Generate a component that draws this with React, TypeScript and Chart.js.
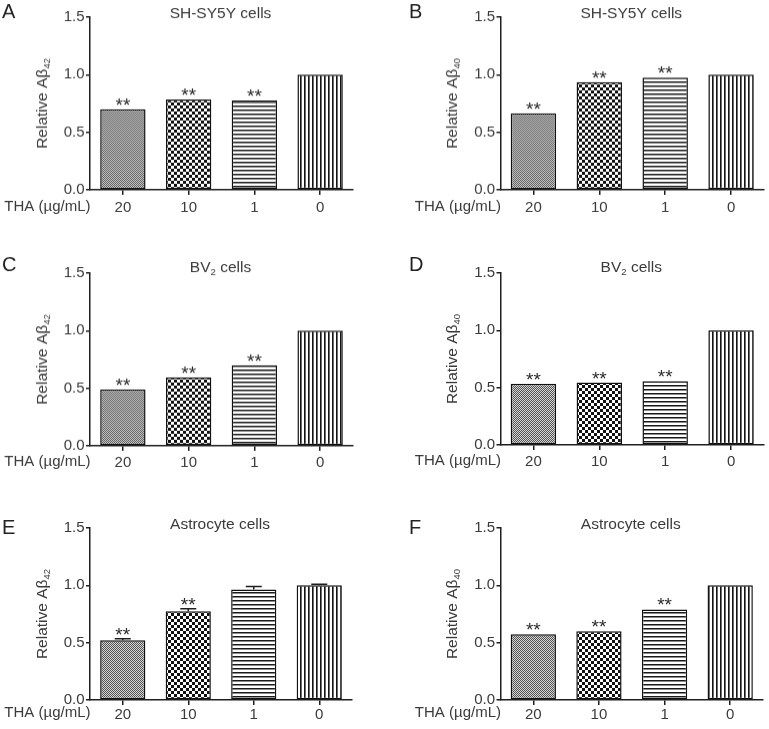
import React, { useEffect, useRef } from 'react';
import { Chart, registerables } from 'chart.js';

Chart.register(...registerables);

// ---------- data ----------
const categories = ['20', '10', '1', '0'];
const xPrefix = 'THA (µg/mL)';
const yMin = 0;
const yMax = 1.5;
const yStep = 0.5;

const valuesA = [0.70, 0.785, 0.776, 1.0];
const valuesB = [0.665, 0.935, 0.975, 1.0];
const valuesC = [0.49, 0.595, 0.70, 1.0];
const valuesD = [0.535, 0.544, 0.555, 1.0];
const valuesE = [0.52, 0.775, 0.963, 1.0];
const valuesF = [0.573, 0.60, 0.79, 1.0];

const errorsE = [0.014, 0.02, 0.027, 0.01];

const sigA = ['**', '**', '**', ''];
const sigB = ['**', '**', '**', ''];
const sigC = ['**', '**', '**', ''];
const sigD = ['**', '**', '**', ''];
const sigE = ['**', '**', '', ''];
const sigF = ['**', '**', '**', ''];

type Seg = { t: string; sub?: boolean };
const titleSH: Seg[] = [{ t: 'SH-SY5Y cells' }];
const titleBV: Seg[] = [{ t: 'BV' }, { t: '2', sub: true }, { t: ' cells' }];
const titleAstro: Seg[] = [{ t: 'Astrocyte cells' }];
const yTitle42: Seg[] = [{ t: 'Relative Aβ' }, { t: '42', sub: true }];
const yTitle40: Seg[] = [{ t: 'Relative Aβ' }, { t: '40', sub: true }];

const panelLetters = ['A', 'B', 'C', 'D', 'E', 'F'];

// ---------- styling / layout ----------
const FONT = "'Liberation Sans', Arial, Helvetica, sans-serif";
const TEXT = '#3a3a3a';
const AXIS = '#1e1e1e';
const PAD_TOP = 20;
const X_AXIS_H = 40;

interface Layout {
  left: number; width: number; axisX: number; right: number;
  plotTop: number; plotBottom: number; letterX: number; letterY: number;
  titleY: number; labelPad: number;
}

const layouts: Layout[] = [
  { left: 0, width: 384, axisX: 90, right: 353, plotTop: 17, plotBottom: 189.5, letterX: 2, letterY: 11.5, titleY: 12.7, labelPad: 4 },
  { left: 384, width: 385, axisX: 500.5, right: 764, plotTop: 17, plotBottom: 189.5, letterX: 409, letterY: 11.5, titleY: 12.7, labelPad: 4 },
  { left: 0, width: 384, axisX: 90, right: 353, plotTop: 273.3, plotBottom: 445.6, letterX: 2, letterY: 265, titleY: 266.7, labelPad: 3 },
  { left: 384, width: 385, axisX: 500.5, right: 764, plotTop: 273.3, plotBottom: 445.3, letterX: 409, letterY: 265, titleY: 266.7, labelPad: 3 },
  { left: 0, width: 384, axisX: 90, right: 352, plotTop: 527.7, plotBottom: 700, letterX: 2, letterY: 527, titleY: 523.3, labelPad: 0.5 },
  { left: 384, width: 385, axisX: 500.5, right: 763, plotTop: 527.7, plotBottom: 700, letterX: 409, letterY: 527, titleY: 523.3, labelPad: 0.5 },
];

interface Panel {
  values: number[]; errors: number[] | null; sig: string[]; title: Seg[]; yTitle: Seg[];
}

const panels: Panel[] = [
  { values: valuesA, errors: null, sig: sigA, title: titleSH, yTitle: yTitle42 },
  { values: valuesB, errors: null, sig: sigB, title: titleSH, yTitle: yTitle40 },
  { values: valuesC, errors: null, sig: sigC, title: titleBV, yTitle: yTitle42 },
  { values: valuesD, errors: null, sig: sigD, title: titleBV, yTitle: yTitle40 },
  { values: valuesE, errors: errorsE, sig: sigE, title: titleAstro, yTitle: yTitle42 },
  { values: valuesF, errors: null, sig: sigF, title: titleAstro, yTitle: yTitle40 },
];

// ---------- helpers ----------
function makePattern(kind: number): CanvasPattern | string {
  const c = document.createElement('canvas');
  const ctx = c.getContext('2d');
  if (!ctx) return '#999';
  if (kind === 0) {
    c.width = 2; c.height = 2;
    ctx.fillStyle = '#d8d8d8'; ctx.fillRect(0, 0, 2, 2);
    ctx.fillStyle = '#505050'; ctx.fillRect(0, 0, 1, 1); ctx.fillRect(1, 1, 1, 1);
  } else if (kind === 1) {
    c.width = 6; c.height = 6;
    ctx.fillStyle = '#ffffff'; ctx.fillRect(0, 0, 6, 6);
    ctx.fillStyle = '#111111'; ctx.fillRect(0, 0, 3, 3); ctx.fillRect(3, 3, 3, 3);
  } else if (kind === 2) {
    c.width = 4; c.height = 4;
    ctx.fillStyle = '#ffffff'; ctx.fillRect(0, 0, 4, 4);
    ctx.fillStyle = '#1a1a1a'; ctx.fillRect(0, 0, 4, 1);
    ctx.fillStyle = '#8a8a8a'; ctx.fillRect(0, 1, 4, 1);
  } else {
    c.width = 4; c.height = 4;
    ctx.fillStyle = '#ffffff'; ctx.fillRect(0, 0, 4, 4);
    ctx.fillStyle = '#151515'; ctx.fillRect(0, 0, 1, 4);
    ctx.fillStyle = '#6a6a6a'; ctx.fillRect(1, 0, 1, 4);
  }
  const p = ctx.createPattern(c, 'repeat');
  return p || '#999';
}

function drawRich(ctx: CanvasRenderingContext2D, segs: Seg[], cx: number, baseY: number, size: number, color: string) {
  const subSize = size * 0.62;
  const widths: number[] = [];
  let total = 0;
  segs.forEach((s) => {
    ctx.font = `${s.sub ? subSize : size}px ${FONT}`;
    const w = ctx.measureText(s.t).width;
    widths.push(w);
    total += w;
  });
  let x = cx - total / 2;
  ctx.fillStyle = color;
  ctx.textAlign = 'left';
  ctx.textBaseline = 'alphabetic';
  segs.forEach((s, i) => {
    ctx.font = `${s.sub ? subSize : size}px ${FONT}`;
    ctx.fillText(s.t, x, s.sub ? baseY + size * 0.2 : baseY);
    x += widths[i];
  });
}

function PanelChart({ idx }: { idx: number }) {
  const ref = useRef<HTMLCanvasElement | null>(null);
  const L = layouts[idx];
  const P = panels[idx];
  const canvasTop = L.plotTop - PAD_TOP;
  const canvasH = L.plotBottom - L.plotTop + PAD_TOP + X_AXIS_H;

  useEffect(() => {
    if (!ref.current) return;
    const patterns = [makePattern(0), makePattern(1), makePattern(2), makePattern(3)];

    const overlay = {
      id: 'overlay' + idx,
      afterDraw(chart: any) {
        const ctx: CanvasRenderingContext2D = chart.ctx;
        const ys = chart.scales.y;
        const area = chart.chartArea;
        ctx.save();
        // panel letter
        ctx.font = `20px ${FONT}`;
        ctx.fillStyle = '#222';
        ctx.textAlign = 'left';
        ctx.textBaseline = 'middle';
        ctx.fillText(panelLetters[idx], L.letterX - L.left, L.letterY - canvasTop + 1);
        // title
        drawRich(ctx, P.title, (area.left + area.right) / 2 - 1, L.titleY - canvasTop + 5.5, 15.5, TEXT);
        // y title rotated
        ctx.save();
        ctx.translate(area.left - 49, (area.top + area.bottom) / 2);
        ctx.rotate(-Math.PI / 2);
        drawRich(ctx, P.yTitle, 0, 5.5, 15.5, TEXT);
        ctx.restore();
        // x prefix label
        ctx.font = `15px ${FONT}`;
        ctx.fillStyle = TEXT;
        ctx.textAlign = 'right';
        ctx.textBaseline = 'top';
        ctx.fillText(xPrefix, area.left + 0.5, area.bottom + 5 + L.labelPad);
        // error bars + significance marks
        const meta = chart.getDatasetMeta(0);
        ctx.strokeStyle = AXIS;
        ctx.lineWidth = 1.5;
        P.values.forEach((v, i) => {
          const bar = meta.data[i];
          if (!bar) return;
          const e = P.errors ? P.errors[i] : 0;
          let topV = v;
          if (e > 0) {
            const y0 = ys.getPixelForValue(v);
            const y1 = ys.getPixelForValue(v + e);
            ctx.beginPath();
            ctx.moveTo(bar.x, y0);
            ctx.lineTo(bar.x, y1);
            ctx.moveTo(bar.x - 8, y1);
            ctx.lineTo(bar.x + 8, y1);
            ctx.stroke();
            topV = v + e;
          }
          const s = P.sig[i];
          if (s) {
            ctx.font = `19px ${FONT}`;
            ctx.fillStyle = '#2a2a2a';
            ctx.textAlign = 'center';
            ctx.textBaseline = 'alphabetic';
            ctx.fillText(s, bar.x, ys.getPixelForValue(topV) + 2);
          }
        });
        ctx.restore();
      },
    };

    const chart = new Chart(ref.current, {
      type: 'bar',
      data: {
        labels: categories,
        datasets: [
          {
            data: P.values,
            backgroundColor: patterns as any,
            borderColor: '#111',
            borderWidth: 1.5,
            borderSkipped: false,
            barPercentage: 0.69,
            categoryPercentage: 1.0,
          },
        ],
      },
      options: {
        animation: false,
        responsive: false,
        maintainAspectRatio: false,
        events: [],
        layout: { padding: { top: PAD_TOP, left: 0, right: L.left + L.width - L.right, bottom: 0 } },
        plugins: {
          legend: { display: false },
          tooltip: { enabled: false },
          title: { display: false },
        },
        scales: {
          x: {
            type: 'category',
            grid: {
              display: true,
              offset: false,
              drawOnChartArea: false,
              drawTicks: true,
              tickLength: 5,
              color: AXIS,
              lineWidth: 1.5,
            },
            border: { display: true, color: AXIS, width: 1.5 },
            ticks: {
              color: TEXT,
              font: { family: FONT, size: 15 },
              padding: L.labelPad,
              maxRotation: 0,
              autoSkip: false,
            },
            afterFit: (s: any) => {
              s.height = X_AXIS_H;
            },
          },
          y: {
            min: yMin,
            max: yMax,
            grid: {
              display: true,
              drawOnChartArea: false,
              drawTicks: true,
              tickLength: 4,
              color: AXIS,
              lineWidth: 1.5,
            },
            border: { display: true, color: AXIS, width: 1.5 },
            ticks: {
              stepSize: yStep,
              color: TEXT,
              font: { family: FONT, size: 15 },
              padding: 1.5,
              callback: (v: any) => Number(v).toFixed(1),
            },
            afterFit: (s: any) => {
              s.width = L.axisX - L.left;
            },
          },
        },
      },
      plugins: [overlay],
    } as any);

    return () => {
      chart.destroy();
    };
  }, [idx]);

  return (
    <canvas
      ref={ref}
      width={L.width}
      height={canvasH}
      style={{ position: 'absolute', left: L.left, top: canvasTop, width: L.width, height: canvasH }}
    />
  );
}

export default function App() {
  return (
    <div style={{ position: 'absolute', left: 0, top: 0, width: 769, height: 729, background: '#fff', overflow: 'hidden' }}>
      {layouts.map((_, i) => (
        <PanelChart key={i} idx={i} />
      ))}
    </div>
  );
}
